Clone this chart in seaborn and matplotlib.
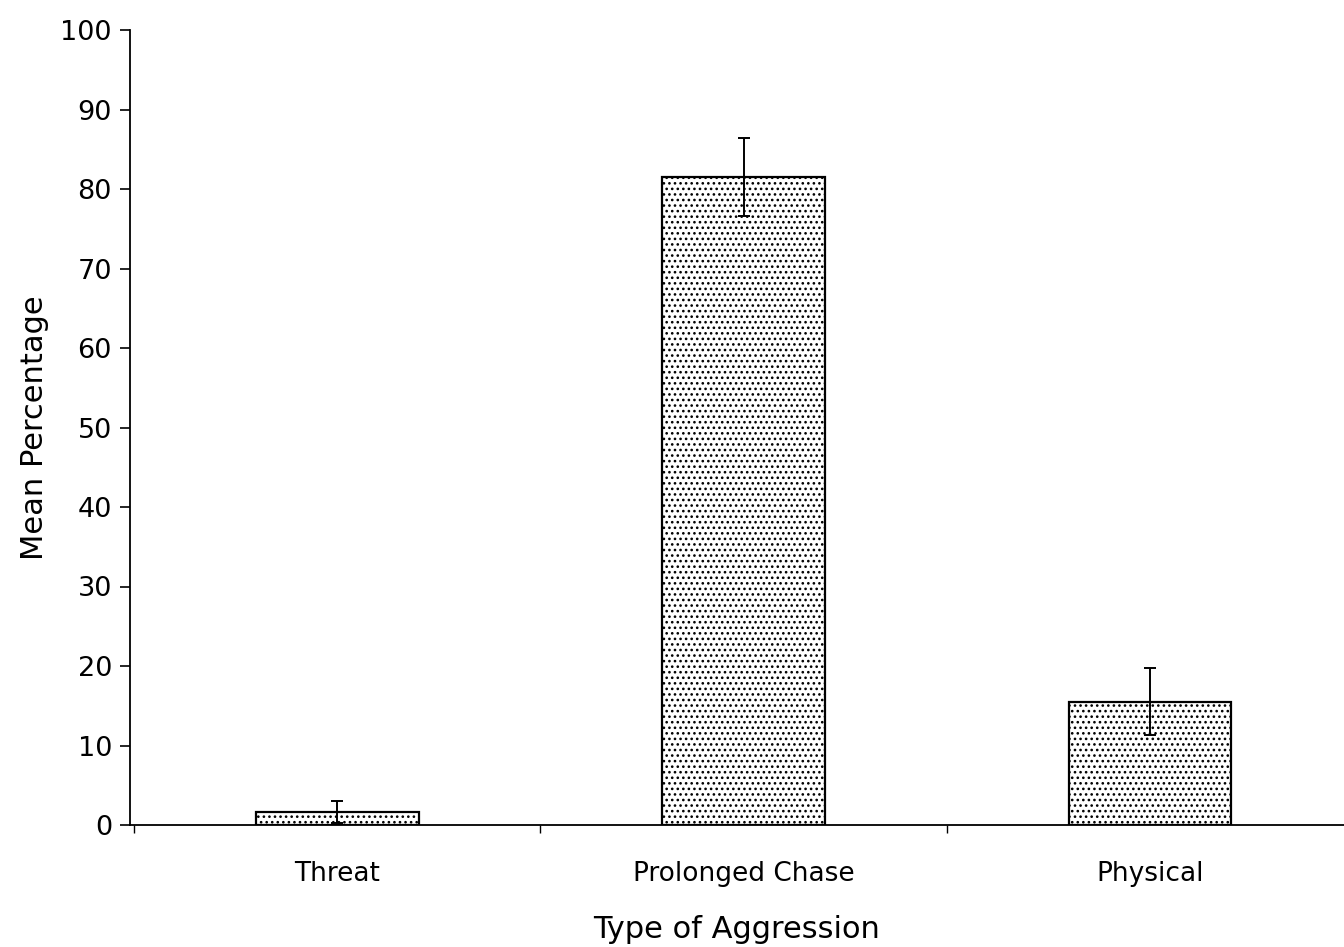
import matplotlib
matplotlib.use("Agg")
import matplotlib.pyplot as plt
import seaborn as sns
import numpy as np
import pandas as pd

# Mean percentage of each aggression type, with its error bar half-length
categories = ["Threat", "Prolonged Chase", "Physical"]
mean_pct = [1.6, 81.5, 15.5]
err_pct = [1.4, 4.9, 4.2]
y_ticks = list(range(0, 101, 10))

sns.set_style("white")
plt.rcParams["font.family"] = ["DejaVu Sans"]
plt.rcParams["text.color"] = "black"
plt.rcParams["axes.labelcolor"] = "black"
plt.rcParams["xtick.color"] = "black"
plt.rcParams["ytick.color"] = "black"
plt.rcParams["hatch.color"] = "#202020"
plt.rcParams["hatch.linewidth"] = 1.1

df = pd.DataFrame({"Type": categories, "Mean": mean_pct})

fig = plt.figure(figsize=(13.44, 9.47), dpi=100)
ax = fig.add_axes([130 / 1344, 1 - 825 / 947, (1344 - 130) / 1344, (825 - 30) / 947])

sns.barplot(data=df, x="Type", y="Mean", ax=ax, errorbar=None,
            width=0.4, color="white", edgecolor="black", linewidth=1.6,
            hatch="...")
ax.errorbar(np.arange(len(categories)), mean_pct, yerr=err_pct, fmt="none",
            ecolor="black", elinewidth=1.4, capsize=4, capthick=1.4, zorder=5)

ax.set_xlim(-0.51, 2.477)
ax.set_ylim(0, 100)
ax.set_yticks(y_ticks)
ax.tick_params(axis="y", direction="out", length=7, width=1.2, labelsize=19.5, pad=6, left=True)

# category labels sit under the bars; tick marks fall between categories
ax.set_xticks(range(len(categories)))
ax.set_xticklabels(categories)
ax.tick_params(axis="x", which="major", length=0, labelsize=19, pad=26)
ax.set_xticks([-0.5, 0.5, 1.5], minor=True)
ax.tick_params(axis="x", which="minor", direction="out", length=6, width=1.0, bottom=True)

ax.set_xlabel("Type of Aggression", fontsize=22, labelpad=20)
ax.set_ylabel("Mean Percentage", fontsize=22, labelpad=8)

for side in ("top", "right"):
    ax.spines[side].set_visible(False)
for side in ("left", "bottom"):
    ax.spines[side].set_color("black")
    ax.spines[side].set_linewidth(1.3)

fig.savefig("out.png", dpi=100, facecolor="white")
